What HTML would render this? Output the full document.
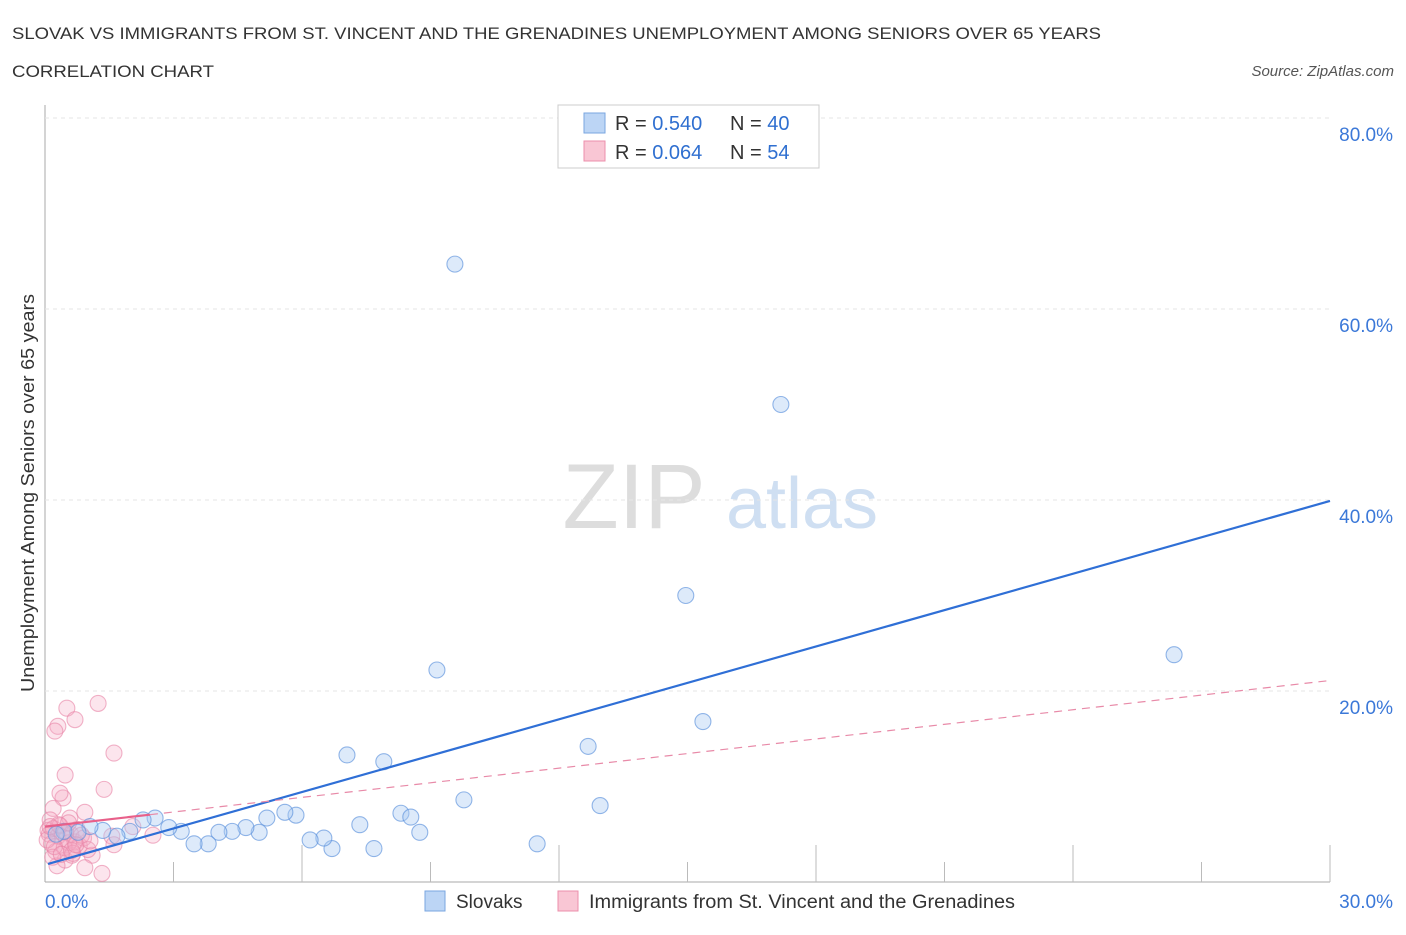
<!DOCTYPE html>
<html><head><meta charset="utf-8"><style>
body{margin:0;background:#fff;font-family:"Liberation Sans",sans-serif}
svg text{font-family:"Liberation Sans",sans-serif}
</style></head><body>
<svg id="chart" width="1406" height="930" xmlns="http://www.w3.org/2000/svg">
<text x="12" y="39" font-size="17" fill="#333" textLength="1089" lengthAdjust="spacingAndGlyphs">SLOVAK VS IMMIGRANTS FROM ST. VINCENT AND THE GRENADINES UNEMPLOYMENT AMONG SENIORS OVER 65 YEARS</text>
<text x="12" y="77" font-size="17" fill="#333" textLength="202" lengthAdjust="spacingAndGlyphs">CORRELATION CHART</text>
<text x="1394" y="76" font-size="15" fill="#555" font-style="italic" text-anchor="end">Source: ZipAtlas.com</text>
<text x="634" y="528" font-size="92" fill="#ddd" font-family="Liberation Serif" text-anchor="middle">ZIP</text>
<text x="802" y="528" font-size="72" fill="#cfdff2" text-anchor="middle">atlas</text>
<text transform="translate(34,493) rotate(-90)" font-size="18" fill="#333" text-anchor="middle" textLength="398" lengthAdjust="spacingAndGlyphs">Unemployment Among Seniors over 65 years</text>
<g id="grid"></g><g id="pts"></g><g id="lines"></g>
<g>
<rect x="558" y="105" width="261" height="63" fill="#fff" stroke="#ccc"/>
<rect x="584" y="113" width="21" height="20" fill="#bcd5f5" stroke="#7aa6e0"/>
<rect x="584" y="141" width="21" height="20" fill="#f9c6d4" stroke="#ec8fab"/>
<text x="615" y="130" font-size="20" fill="#333">R = <tspan fill="#2f6fd0">0.540</tspan></text>
<text x="730" y="130" font-size="20" fill="#333">N = <tspan fill="#2f6fd0">40</tspan></text>
<text x="615" y="159" font-size="20" fill="#333">R = <tspan fill="#2f6fd0">0.064</tspan></text>
<text x="730" y="159" font-size="20" fill="#333">N = <tspan fill="#2f6fd0">54</tspan></text>
</g>
<g>
<rect x="425" y="891" width="20" height="20" fill="#bcd5f5" stroke="#7aa6e0"/>
<text x="456" y="908" font-size="19" fill="#333">Slovaks</text>
<rect x="558" y="891" width="20" height="20" fill="#f9c6d4" stroke="#ec8fab"/>
<text x="589" y="908" font-size="19" fill="#333" textLength="426" lengthAdjust="spacingAndGlyphs">Immigrants from St. Vincent and the Grenadines</text>
</g>
</svg>
<script>
const xTicks=[0,30];
const yTicks=[20,40,60,80];
const blueX=[9.57,17.18,14.96,9.15,26.36,15.36,7.05,7.91,12.68,9.78,12.96,8.31,8.54,8.75,7.35,11.49,7.68,6.70,6.51,6.19,5.86,5.60,5.18,5.00,4.69,4.37,4.06,3.81,3.48,3.18,2.89,2.57,2.29,1.98,1.68,1.35,1.05,0.77,0.44,0.26];
const blueY=[64.7,50.0,30.0,22.2,23.8,16.8,13.3,12.6,14.2,8.6,8.0,7.2,6.8,5.2,6.0,4.0,3.5,3.5,4.6,4.4,7.0,7.3,6.7,5.2,5.7,5.3,5.2,4.0,4.0,5.3,5.7,6.7,6.5,5.3,4.8,5.4,5.8,5.2,5.3,5.0];
const pinkX=[1.24,0.51,0.70,0.30,0.23,1.61,0.47,1.38,0.42,0.35,0.19,0.93,0.58,2.05,2.52,1.56,1.61,1.10,0.47,0.63,0.93,1.33,0.28,0.12,0.07,0.10,0.20,0.30,0.40,0.50,0.60,0.70,0.80,0.15,0.25,0.35,0.45,0.55,0.65,0.75,0.90,1.00,0.05,0.18,0.32,0.48,0.62,0.85,0.22,0.38,0.55,0.72,0.12,1.05];
const pinkY=[18.7,18.2,17.0,16.3,15.8,13.5,11.2,9.7,8.8,9.3,7.7,7.3,6.7,5.8,4.9,4.8,3.9,2.8,2.3,2.8,1.5,0.9,1.7,6.5,5.4,5.0,5.6,4.8,5.2,4.5,5.0,4.2,3.8,4.0,3.2,5.9,3.6,4.1,3.0,5.5,4.6,3.4,4.4,2.6,6.0,5.3,3.3,4.9,3.7,2.9,6.2,3.9,5.8,4.3];
const blueLine=[1.8,1.27];
const pinkLine=[5.8,0.51];
const X=v=>45+v/30*1285, Y=v=>882-v/20*191;
const NS='http://www.w3.org/2000/svg';
function mk(t,a,p){const e=document.createElementNS(NS,t);for(const k in a)e.setAttribute(k,a[k]);p.appendChild(e);return e;}
const g=document.getElementById('grid');
mk('line',{x1:45,y1:105,x2:45,y2:882,stroke:'#aaa'},g);
mk('line',{x1:45,y1:882,x2:1330,y2:882,stroke:'#aaa'},g);
for(let i=1;i<=10;i++){mk('line',{x1:45+i*128.5,y1:882,x2:45+i*128.5,y2:i%2==0?845:862,stroke:'#bbb'},g);}
yTicks.forEach(v=>{
const l=mk('line',{x1:45,y1:Y(v),x2:1330,y2:Y(v),stroke:'#e6e6e6','stroke-dasharray':'4,4'},g);


const t=mk('text',{x:1393,y:Y(v)+23,'font-size':19,fill:'#3b78d8','text-anchor':'end'},g);t.textContent=v.toFixed(1)+'%';

});
xTicks.forEach(v=>{const t=mk('text',{x:v==0?45:1393,y:908,'font-size':19,fill:'#3b78d8','text-anchor':v==0?'start':'end'},g);t.textContent=v.toFixed(1)+'%';

});
const p=document.getElementById('pts');
pinkX.forEach((x,i)=>{const c=mk('circle',{cx:X(x),cy:Y(pinkY[i]),r:8,fill:'rgba(246,170,194,0.3)',stroke:'rgba(232,130,165,0.6)','stroke-width':1.1},p);

});
blueX.forEach((x,i)=>{const c=mk('circle',{cx:X(x),cy:Y(blueY[i]),r:8,fill:'rgba(170,202,242,0.4)',stroke:'rgba(90,145,220,0.65)','stroke-width':1.1},p);

});
const L=document.getElementById('lines');
const bl=mk('line',{x1:X(0.07),y1:Y(blueLine[0]+blueLine[1]*0.07),x2:X(30),y2:Y(blueLine[0]+blueLine[1]*30),stroke:'#2f6fd6','stroke-width':2.2},L);


const pd=mk('line',{x1:X(2.45),y1:Y(pinkLine[0]+pinkLine[1]*2.45),x2:X(30),y2:Y(pinkLine[0]+pinkLine[1]*30),stroke:'#e88aa8','stroke-width':1.2,'stroke-dasharray':'8,6'},L);


const ps=mk('line',{x1:X(0),y1:Y(pinkLine[0]),x2:X(2.45),y2:Y(pinkLine[0]+pinkLine[1]*2.45),stroke:'#e8608a','stroke-width':2.2},L);


</script>
</body></html>
